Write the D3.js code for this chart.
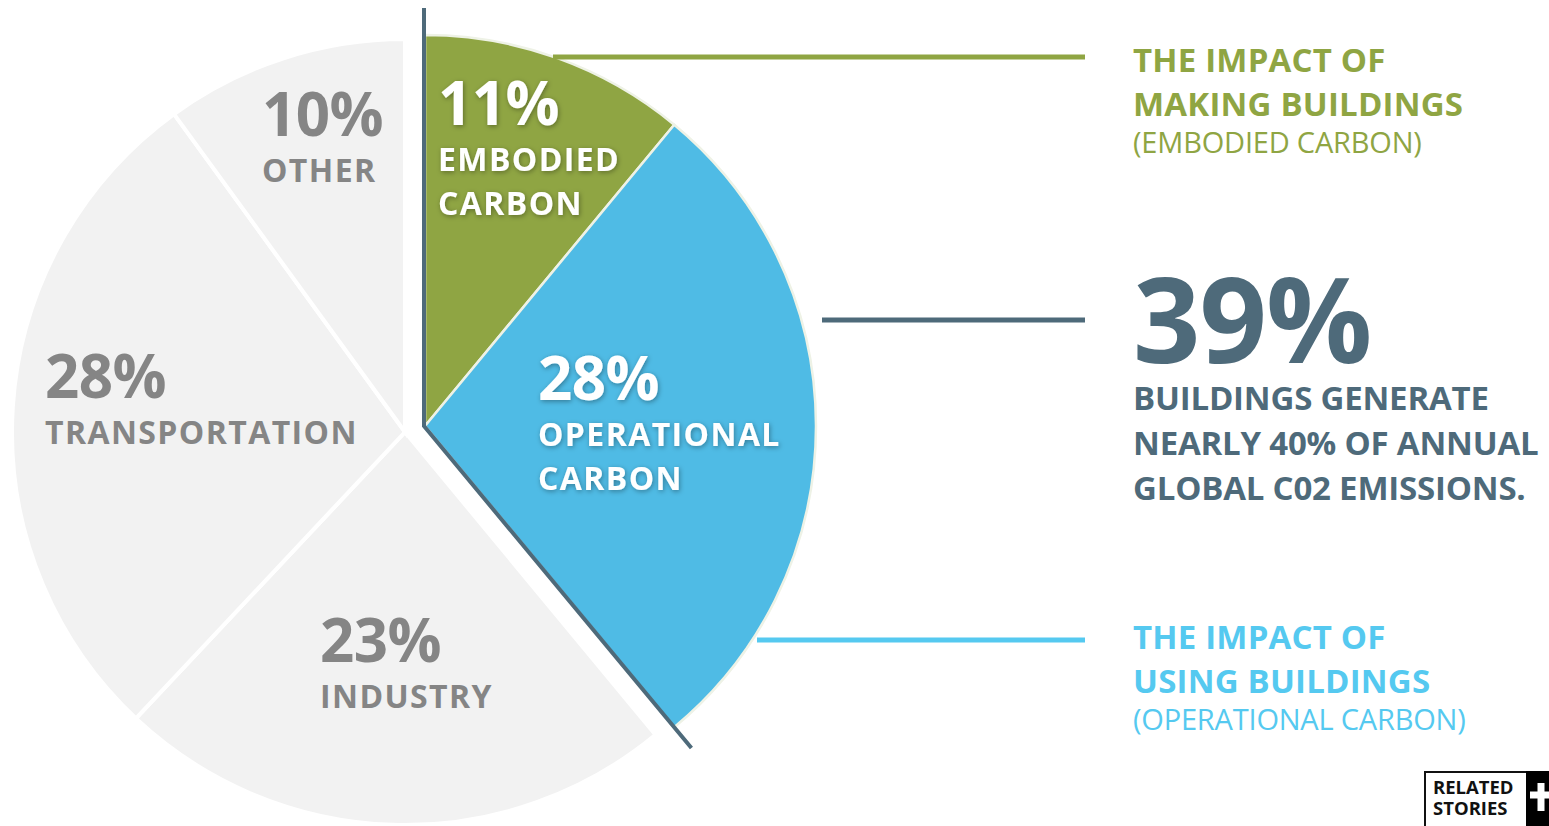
<!DOCTYPE html>
<html>
<head>
<meta charset="utf-8">
<script src="https://cdn.jsdelivr.net/npm/d3@7"></script>
<style>
  body { margin: 0; background: #fff; }
  svg { display: block; font-family: "Open Sans", sans-serif; }
</style>
</head>
<body>
<div id="chart"></div>
<script>
var svgWidth = 1549;
var svgHeight = 826;

// data
var categories = ["EMBODIED CARBON", "OPERATIONAL CARBON", "INDUSTRY", "TRANSPORTATION", "OTHER"];
var percents = [11, 28, 23, 28, 10];
var labelLines = [["EMBODIED", "CARBON"], ["OPERATIONAL", "CARBON"], ["INDUSTRY"], ["TRANSPORTATION"], ["OTHER"]];
var buildingShare = 39;
var buildingText = ["BUILDINGS GENERATE", "NEARLY 40% OF ANNUAL", "GLOBAL C02 EMISSIONS."];
var makingText = ["THE IMPACT OF", "MAKING BUILDINGS", "(EMBODIED CARBON)"];
var usingText = ["THE IMPACT OF", "USING BUILDINGS", "(OPERATIONAL CARBON)"];

var green = "#8fa543";
var blue = "#4fbbe5";
var slate = "#4e6a7a";
var grey = "#f2f2f2";
var greyText = "#858585";
var lightBlue = "#55c9f0";

var svg = d3.select("#chart")
	.append("svg")
	.attr("width", svgWidth)
	.attr("height", svgHeight);

var defs = svg.append("defs");
defs.append("filter")
	.attr("id", "shadow")
	.attr("x", "-10%").attr("y", "-20%").attr("width", "120%").attr("height", "140%")
	.append("feDropShadow")
	.attr("dx", 1).attr("dy", 1.5).attr("stdDeviation", 2.5)
	.attr("flood-color", "#000").attr("flood-opacity", 0.35);

var baseCenter = [405, 432];
var popCenter = [425, 426];
var radius = 393;

var pie = d3.pie().sort(null).value(d => d)(percents);
var arc = d3.arc().innerRadius(0).outerRadius(radius);

// grey slices
var greyG = svg.append("g").attr("transform", "translate(" + baseCenter + ")");
greyG.selectAll("path")
	.data(pie.slice(2))
	.enter()
	.append("path")
	.attr("d", arc)
	.attr("fill", grey)
	.attr("stroke", "#fff")
	.attr("stroke-width", 4);

// building slices pushed out
var popG = svg.append("g").attr("transform", "translate(" + popCenter + ")");
popG.selectAll("path")
	.data(pie.slice(0, 2))
	.enter()
	.append("path")
	.attr("d", d3.arc().innerRadius(0).outerRadius(radius - 2))
	.attr("fill", (d, i) => i == 0 ? green : blue)
	.attr("stroke", "#eef2e6")
	.attr("stroke-width", 2.5);

// slate bracket line
var endA = pie[1].endAngle;
var lineLen = 418;
popG.append("path")
	.attr("d", "M-1," + (8 - popCenter[1]) + "L-1,0L" + (Math.sin(endA) * lineLen) + "," + (-Math.cos(endA) * lineLen))
	.attr("fill", "none")
	.attr("stroke", slate)
	.attr("stroke-width", 4);

// labels inside slices
var labelPos = [[438, 125], [538, 400], [320, 662], [45, 398], [262, 136]];
var labels = svg.selectAll("g.lbl")
	.data(pie)
	.enter()
	.append("g")
	.attr("class", "lbl")
	.attr("transform", (d, i) => "translate(" + labelPos[i] + ")")
	.attr("fill", (d, i) => i < 2 ? "#fff" : greyText)
	.attr("filter", (d, i) => i < 2 ? "url(#shadow)" : null);

labels.append("text")
	.attr("font-size", 60)
	.attr("font-weight", 700)
	.attr("letter-spacing", -0.5)
	.text(d => d.data + "%");

labels.each(function (d, i) {
	d3.select(this).selectAll("text.line")
		.data(labelLines[i])
		.enter()
		.append("text")
		.attr("class", "line")
		.attr("y", (t, j) => 46 + j * 44)
		.attr("font-size", 32)
		.attr("font-weight", 700)
		.attr("letter-spacing", 1.4)
		.text(t => t);
});

// leader lines
var leaders = [
	{ x1: 553, y: 57, color: green },
	{ x1: 822, y: 320, color: slate },
	{ x1: 757, y: 640, color: lightBlue }
];
svg.selectAll("line.leader")
	.data(leaders)
	.enter()
	.append("line")
	.attr("class", "leader")
	.attr("x1", d => d.x1)
	.attr("x2", 1085)
	.attr("y1", d => d.y)
	.attr("y2", d => d.y)
	.attr("stroke", d => d.color)
	.attr("stroke-width", 5);

// right side blocks
function block(lines, color, y0) {
	var g = svg.append("g").attr("transform", "translate(1133," + y0 + ")").attr("fill", color);
	g.selectAll("text")
		.data(lines)
		.enter()
		.append("text")
		.attr("y", (t, j) => j * 44 + (j == 2 ? -7 : 0))
		.attr("font-size", (t, j) => j == 2 ? 29 : 33)
		.attr("font-weight", (t, j) => j == 2 ? 400 : 700)
		.attr("letter-spacing", (t, j) => j == 2 ? -0.2 : 0.2)
		.text(t => t);
}
block(makingText, green, 72);
block(usingText, lightBlue, 649);

var big = svg.append("g").attr("transform", "translate(1133,363)").attr("fill", slate);
big.append("text")
	.attr("font-size", 118)
	.attr("font-weight", 700)
	.attr("letter-spacing", -1)
	.text(buildingShare + "%");
big.selectAll("text.sub")
	.data(buildingText)
	.enter()
	.append("text")
	.attr("class", "sub")
	.attr("y", (t, j) => 47 + j * 45)
	.attr("font-size", 33)
	.attr("font-weight", 700)
	.attr("letter-spacing", -0.2)
	.text(t => t);

// related stories badge
var badge = svg.append("g").attr("transform", "translate(1424,771)");
badge.append("rect").attr("x", 1).attr("y", 1).attr("width", 130).attr("height", 60)
	.attr("fill", "#fff").attr("stroke", "#111").attr("stroke-width", 2);
badge.append("rect").attr("x", 102).attr("y", 0).attr("width", 30).attr("height", 60).attr("fill", "#000");
badge.append("path").attr("d", "M117,12V40M106,24H128").attr("stroke", "#fff").attr("stroke-width", 7);
badge.selectAll("text")
	.data(["RELATED", "STORIES"])
	.enter()
	.append("text")
	.attr("x", 9)
	.attr("y", (t, j) => 23 + j * 21)
	.attr("font-size", 18.5)
	.attr("font-weight", 700)
	.attr("fill", "#111")
	.text(t => t);
</script>
</body>
</html>
